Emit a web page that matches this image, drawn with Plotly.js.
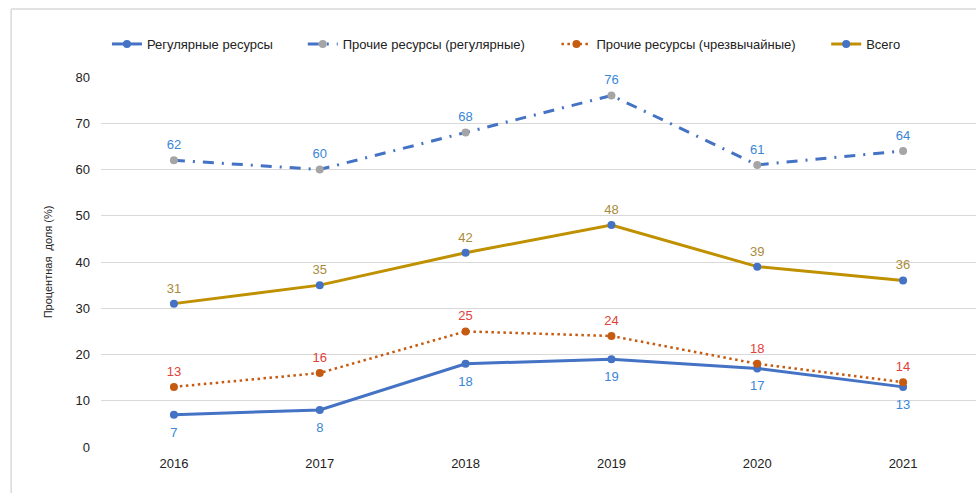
<!DOCTYPE html>
<html>
<head>
<meta charset="utf-8">
<script src="https://cdn.plot.ly/plotly-3.0.1.min.js"></script>
<style>
html,body{margin:0;padding:0;background:#fff;}
#chart{width:976px;height:493px;}
</style>
</head>
<body>
<div id="chart"></div>
<script>
const years = ['2016', '2017', '2018', '2019', '2020', '2021'];
const regular = [7, 8, 18, 19, 17, 13];
const otherRegular = [62, 60, 68, 76, 61, 64];
const otherEmergency = [13, 16, 25, 24, 18, 14];
const total = [31, 35, 42, 48, 39, 36];
const seriesNames = ['Регулярные ресурсы', 'Прочие ресурсы (регулярные)', 'Прочие ресурсы (чрезвычайные)', 'Всего'];
const yTitle = 'Процентная\u00a0 доля (%)';

const labelFont = {family: 'Liberation Sans, Arial, sans-serif', size: 13};

function lineTrace(values, name, line, markerColor, legendId) {
  return {
    x: years, y: values, name: name, type: 'scatter', mode: 'lines+markers',
    line: line, marker: {color: markerColor, size: 8},
    legend: legendId, cliponaxis: false
  };
}
function labelTrace(values, pos, color, padSize) {
  return {
    x: years, y: values, type: 'scatter', mode: 'markers+text', showlegend: false,
    marker: {size: padSize, opacity: 0},
    text: values.map(String), textposition: pos,
    textfont: Object.assign({color: color}, labelFont), cliponaxis: false, hoverinfo: 'skip'
  };
}

const traces = [
  lineTrace(regular, seriesNames[0], {color: '#4472c4', width: 3}, '#4472c4', 'legend'),
  lineTrace(otherRegular, seriesNames[1], {color: '#4472c4', width: 3, dash: '11px,8px,2px,8px'}, '#a5a5a5', 'legend2'),
  lineTrace(otherEmergency, seriesNames[2], {color: '#c55a11', width: 2.5, dash: '2.5px,3.5px'}, '#c55a11', 'legend3'),
  lineTrace(total, seriesNames[3], {color: '#bf9000', width: 3}, '#4472c4', 'legend4'),
  labelTrace(regular, 'bottom center', '#3a86d6', 18),
  labelTrace(otherRegular, 'top center', '#3a86d6', 11),
  labelTrace(otherEmergency, 'top center', '#e0413a', 11),
  labelTrace(total, 'top center', '#a88b3a', 11)
];

function leg(x) {
  return {
    orientation: 'h', x: x, xanchor: 'left', y: 1.0892, yanchor: 'middle',
    bgcolor: 'rgba(0,0,0,0)', font: {family: 'Liberation Sans, Arial, sans-serif', size: 13, color: '#222'},
    itemwidth: 30
  };
}

const layout = {
  width: 976, height: 493,
  margin: {l: 101, r: 0, t: 77, b: 46},
  paper_bgcolor: '#fff', plot_bgcolor: '#fff',
  font: {family: 'Liberation Sans, Arial, sans-serif', size: 12, color: '#222'},
  xaxis: {
    type: 'category', range: [-0.5, 5.5], showgrid: false, zeroline: false, showline: false,
    ticks: '', ticklabelstandoff: 7, tickfont: {size: 13, color: '#222'}, fixedrange: true
  },
  yaxis: {
    range: [0, 80], dtick: 10, showgrid: true, gridcolor: '#d9d9d9', gridwidth: 1,
    zeroline: false, showline: false, ticks: '', ticklabelstandoff: 10,
    tickfont: {size: 13, color: '#222'},
    title: {text: yTitle, font: {size: 11, color: '#222'}, standoff: 20},
    fixedrange: true
  },
  legend: leg(0.0068),
  legend2: leg(0.2306),
  legend3: leg(0.5205),
  legend4: leg(0.8288),
  showlegend: true,
  shapes: [
    {type: 'line', xref: 'paper', yref: 'paper', x0: -0.1027, x1: -0.1027, y0: -0.2, y1: 1.1838,
     line: {color: '#d9d9d9', width: 1.5}},
    {type: 'line', xref: 'paper', yref: 'paper', x0: -0.1027, x1: 1.05, y0: 1.1838, y1: 1.1838,
     line: {color: '#d9d9d9', width: 1.5}}
  ]
};

Plotly.newPlot('chart', traces, layout, {displayModeBar: false, staticPlot: true});
</script>
</body>
</html>
